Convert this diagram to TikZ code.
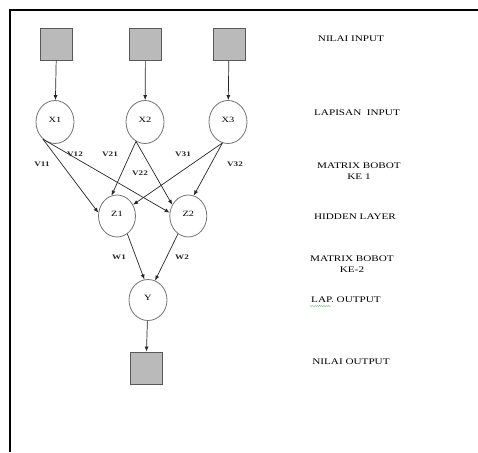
\documentclass[tikz,border=0pt]{standalone}
\usepackage{fontspec}
\setmainfont{Liberation Serif}
\newfontfamily\lblfont[FakeStretch=1.3]{Liberation Serif}
\usetikzlibrary{arrows.meta,shapes.geometric,decorations.pathmorphing}

\begin{document}
\begin{tikzpicture}[x=1pt,y=-1pt,
  valbox/.style={draw=black!65,fill=black!27,line width=0.9pt,minimum width=32pt,minimum height=32pt,inner sep=0pt},
  neuron/.style={ellipse,draw=black!55,line width=0.8pt,minimum width=38pt,minimum height=43pt,inner sep=0pt,
    font=\lblfont\fontsize{8}{9}\selectfont},
  link/.style={-{Latex[length=5pt,width=4pt]},line width=0.7pt,draw=black!85},
  wlabel/.style={font=\lblfont\fontsize{7}{8}\selectfont\bfseries,inner sep=0pt,text=black!85},
  side/.style={font=\lblfont\fontsize{8.6}{11.7}\selectfont,align=center,inner sep=0pt,text=black}]

\useasboundingbox (0,0) rectangle (478,452);

% page frame (left and top edges)
\draw[line width=2pt] (9.7,452) -- (9.7,10) -- (478,10);

% input values
\node[valbox] (in1) at (56.5,44.5) {};
\node[valbox] (in2) at (145.5,44.5) {};
\node[valbox] (in3) at (229,44.5) {};

% input layer
\node[neuron] (X1) at (55,122) {\raisebox{4pt}{X1}};
\node[neuron] (X2) at (145,122) {\raisebox{4pt}{X2}};
\node[neuron] (X3) at (228,122) {\raisebox{4pt}{X3}};

% hidden layer
\node[neuron,minimum width=37pt,minimum height=42pt] (Z1) at (117,216) {\raisebox{4pt}{Z1}};
\node[neuron,minimum width=37pt,minimum height=42pt] (Z2) at (188.3,216) {\raisebox{4pt}{Z2}};

% output layer
\node[neuron,minimum height=41pt] (Y) at (148,300) {\raisebox{4pt}{Y}};

% output value
\node[valbox] (out) at (146,368) {};

% connections
\draw[link] (in1) -- (X1);
\draw[link] (in2) -- (X2);
\draw[link] (in3) -- (X3);

\draw[link] (X1.235) -- (Z1.170);
\draw[link] (X1.235) -- (Z2.170);
\draw[link] (X2.245) -- (Z1.105);
\draw[link] (X2.245) -- (Z2.145);
\draw[link] (X3.255) -- (Z1.35);
\draw[link] (X3.255) -- (Z2.75);

\draw[link] (Z1.300) -- (Y.100);
\draw[link] (Z2.240) -- (Y.70);

\draw[link] (Y) -- (out);

% weight labels
\node[wlabel] (v11) at (42,164) {V11};
\node[wlabel] (v12) at (75,154) {V12};
\node[wlabel] (v21) at (110,154) {V21};
\node[wlabel] (v22) at (140,173) {V22};
\node[wlabel] (v31) at (183,154) {V31};
\node[wlabel] (v32) at (235,164) {V32};
\node[wlabel] (w1) at (119,257) {W1};
\node[wlabel] (w2) at (182,257) {W2};

% layer descriptions
\node[side] (d1) at (351,39) {NILAI INPUT};
\node[side] (d2) at (357,113) {LAPISAN\ \ INPUT};
\node[side] (d3) at (359,171) {MATRIX BOBOT\\KE 1};
\node[side] (d4) at (355,217) {HIDDEN LAYER};
\node[side] (d5) at (352,264) {MATRIX BOBOT\\KE-2};
\node[side] (d6) at (346,300) {LAP. OUTPUT};
\node[side] (d7) at (351,362) {NILAI OUTPUT};

% spelling squiggle under "LAP."
\draw[green!55!black,opacity=0.6,line width=0.4pt,decorate,
  decoration={snake,amplitude=0.5pt,segment length=2.2pt}] (310,306) -- (331,306);
\end{tikzpicture}
\end{document}
